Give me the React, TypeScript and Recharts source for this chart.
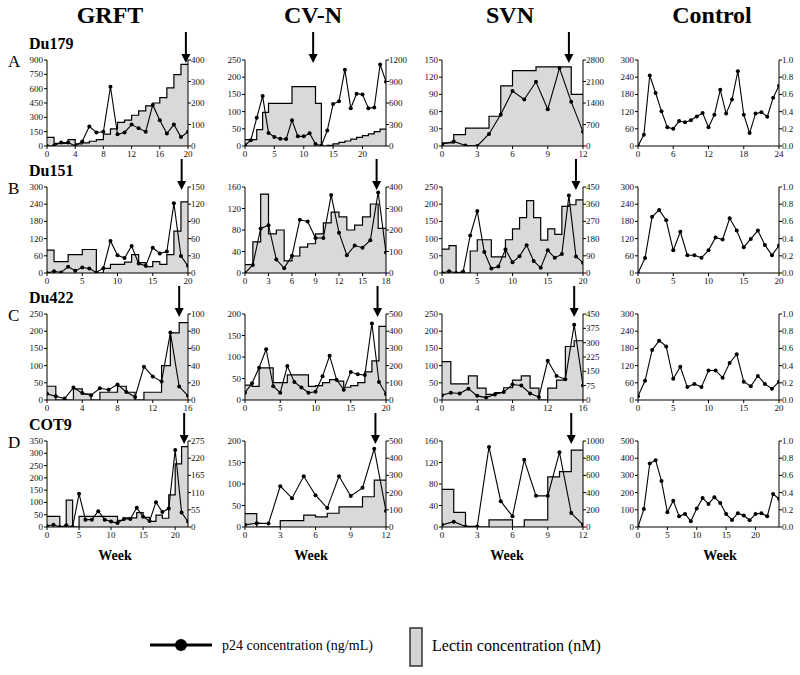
import React from 'react';
import { ComposedChart, Area, Line, XAxis, YAxis, ReferenceDot } from 'recharts';

// ---------- Column / row labels ----------
const COLUMN_TITLES = ['GRFT', 'CV-N', 'SVN', 'Control'];
const ROW_LETTERS = ['A', 'B', 'C', 'D'];
const ROW_VIRUSES = ['Du179', 'Du151', 'Du422', 'COT9'];

// ---------- Row A : Du179 ----------
const A_GRFT_P24 = [0, 3, 37, 37, 0, 48, 205, 142, 149, 620, 123, 142, 224, 187, 149, 430, 269, 131, 224, 93, 149];
const A_GRFT_LECTIN = [40, 12, 12, 30, 10, 15, 22, 30, 55, 80, 110, 120, 143, 163, 187, 200, 225, 270, 332, 380, 380];
const A_CVN_P24 = [2, 17, 82, 145, 38, 26, 21, 20, 75, 28, 28, 37, 6, 1, 45, 122, 130, 222, 110, 152, 150, 110, 112, 237, 187];
const A_CVN_LECTIN = [90, 90, 228, 470, 595, 595, 595, 595, 828, 828, 828, 828, 595, 0, 10, 30, 50, 70, 95, 120, 145, 170, 200, 235, 235];
const A_SVN_P24 = [3, 8, 1, 0, 21, 55, 96, 81, 112, 64, 136, 77, 25];
const A_SVN_LECTIN = [105, 368, 579, 579, 968, 1958, 2453, 2453, 2579, 2579, 2579, 1684, 1684];
const A_CTRL_P24 = [0, 39, 246, 185, 121, 65, 60, 87, 83, 90, 103, 115, 65, 109, 196, 113, 162, 261, 109, 45, 113, 118, 102, 168, 210];

// ---------- Row B : Du151 ----------
const B_GRFT_P24 = [0, 6, 2, 22, 8, 19, 16, 2, 17, 112, 62, 52, 94, 33, 25, 88, 68, 75, 243, 59, 25];
const B_GRFT_LECTIN = [40, 20, 20, 32, 32, 41, 41, 0, 8, 15, 15, 19, 32, 18, 11, 20, 15, 32, 73, 124, 124];
const B_CVN_P24 = [0, 15, 83, 89, 25, 9, 32, 99, 96, 65, 65, 145, 75, 33, 51, 47, 61, 150, 38];
const B_CVN_LECTIN = [39, 145, 367, 182, 200, 56, 79, 120, 136, 182, 233, 283, 261, 200, 223, 261, 321, 208, 208];
const B_SVN_P24 = [0, 5, 0, 4, 109, 180, 61, 13, 19, 69, 31, 49, 81, 35, 15, 66, 44, 55, 225, 48, 30];
const B_SVN_LECTIN = [125, 143, 0, 0, 115, 174, 174, 84, 84, 174, 231, 290, 379, 290, 172, 231, 202, 349, 357, 383, 383];
const B_CTRL_P24 = [0, 52, 196, 220, 184, 79, 144, 62, 62, 53, 79, 124, 117, 191, 148, 90, 119, 148, 98, 62, 96];

// ---------- Row C : Du422 ----------
const C_GRFT_P24 = [18, 11, 4, 36, 20, 14, 34, 30, 45, 23, 9, 97, 68, 54, 196, 39, 12];
const C_GRFT_LECTIN = [16, 0, 0, 13, 7, 0, 9, 9, 16, 9, 0, 9, 9, 40, 78, 90, 90];
const C_CVN_P24 = [17, 39, 75, 118, 32, 17, 79, 42, 29, 17, 19, 55, 103, 47, 24, 65, 60, 58, 178, 42, 14];
const C_CVN_LECTIN = [86, 79, 187, 187, 101, 101, 146, 146, 146, 79, 83, 101, 119, 110, 74, 83, 101, 164, 227, 428, 428];
const C_SVN_P24 = [14, 21, 19, 33, 12, 7, 16, 23, 45, 42, 19, 9, 114, 70, 60, 219, 42];
const C_SVN_LECTIN = [201, 84, 84, 126, 62, 29, 39, 64, 104, 126, 62, 0, 62, 104, 280, 310, 310];
const C_CTRL_P24 = [13, 67, 174, 207, 187, 74, 116, 45, 56, 45, 103, 103, 78, 129, 160, 64, 48, 84, 56, 39, 64];

// ---------- Row D : COT9 ----------
const D_GRFT_P24 = [4, 9, 0, 7, 0, 135, 30, 30, 64, 30, 22, 16, 33, 33, 78, 42, 24, 101, 61, 75, 313, 59, 22];
const D_GRFT_LECTIN = [34, 34, 0, 86, 0, 34, 34, 34, 34, 34, 34, 21, 29, 29, 46, 31, 18, 38, 28, 103, 202, 257, 257];
const D_CVN_P24 = [5, 9, 8, 95, 67, 118, 74, 44, 118, 72, 91, 182, 37];
const D_CVN_LECTIN = [78, 0, 0, 37, 37, 69, 59, 80, 117, 117, 176, 272, 272];
const D_SVN_P24 = [4, 10, 1, 1, 149, 48, 20, 125, 58, 58, 139, 26, 4];
const D_SVN_LECTIN = [438, 169, 7, 0, 82, 82, 0, 82, 82, 582, 645, 895, 895];
const D_CTRL_P24 = [0, 104, 369, 388, 267, 86, 153, 62, 76, 34, 108, 168, 134, 173, 140, 75, 41, 80, 67, 39, 75, 80, 62, 192, 164];

// ---------- Tick label lists ----------
const TICKS_X_20_4 = [0, 4, 8, 12, 16, 20];
const TICKS_X_20_5 = [0, 5, 10, 15, 20];
const TICKS_X_12_3 = [0, 3, 6, 9, 12];
const TICKS_X_24_6 = [0, 6, 12, 18, 24];
const TICKS_X_18_3 = [0, 3, 6, 9, 12, 15, 18];
const TICKS_X_16_4 = [0, 4, 8, 12, 16];
const TICKS_CTRL_RIGHT = [0, 0.2, 0.4, 0.6, 0.8, 1.0];

type Cfg = {
  p24: number[];
  lectin?: number[];
  xMax: number; xTicks: number[];
  yMax: number; yTicks: number[];
  rMax: number; rTicks: number[];
  rFmt?: (v: number) => string;
  arrow?: number;
};

const ctrlFmt = (v: number) => v.toFixed(1);

const PANELS: Cfg[][] = [
  [
    { p24: A_GRFT_P24, lectin: A_GRFT_LECTIN, xMax: 20, xTicks: TICKS_X_20_4, yMax: 900, yTicks: [0, 150, 300, 450, 600, 750, 900], rMax: 400, rTicks: [0, 100, 200, 300, 400], arrow: 19.7 },
    { p24: A_CVN_P24, lectin: A_CVN_LECTIN, xMax: 24, xTicks: TICKS_X_20_5, yMax: 250, yTicks: [0, 50, 100, 150, 200, 250], rMax: 1200, rTicks: [0, 300, 600, 900, 1200], arrow: 11.6 },
    { p24: A_SVN_P24, lectin: A_SVN_LECTIN, xMax: 12, xTicks: TICKS_X_12_3, yMax: 150, yTicks: [0, 30, 60, 90, 120, 150], rMax: 2800, rTicks: [0, 700, 1400, 2100, 2800], arrow: 10.8 },
    { p24: A_CTRL_P24, xMax: 24, xTicks: TICKS_X_24_6, yMax: 300, yTicks: [0, 60, 120, 180, 240, 300], rMax: 1, rTicks: TICKS_CTRL_RIGHT, rFmt: ctrlFmt },
  ],
  [
    { p24: B_GRFT_P24, lectin: B_GRFT_LECTIN, xMax: 20, xTicks: TICKS_X_20_5, yMax: 300, yTicks: [0, 60, 120, 180, 240, 300], rMax: 150, rTicks: [0, 30, 60, 90, 120, 150], arrow: 19.1 },
    { p24: B_CVN_P24, lectin: B_CVN_LECTIN, xMax: 18, xTicks: TICKS_X_18_3, yMax: 160, yTicks: [0, 40, 80, 120, 160], rMax: 400, rTicks: [0, 100, 200, 300, 400], arrow: 16.8 },
    { p24: B_SVN_P24, lectin: B_SVN_LECTIN, xMax: 20, xTicks: TICKS_X_20_5, yMax: 250, yTicks: [0, 50, 100, 150, 200, 250], rMax: 450, rTicks: [0, 90, 180, 270, 360, 450], arrow: 19 },
    { p24: B_CTRL_P24, xMax: 20, xTicks: TICKS_X_20_5, yMax: 300, yTicks: [0, 60, 120, 180, 240, 300], rMax: 1, rTicks: TICKS_CTRL_RIGHT, rFmt: ctrlFmt },
  ],
  [
    { p24: C_GRFT_P24, lectin: C_GRFT_LECTIN, xMax: 16, xTicks: TICKS_X_16_4, yMax: 250, yTicks: [0, 50, 100, 150, 200, 250], rMax: 100, rTicks: [0, 20, 40, 60, 80, 100], arrow: 15 },
    { p24: C_CVN_P24, lectin: C_CVN_LECTIN, xMax: 20, xTicks: TICKS_X_20_5, yMax: 200, yTicks: [0, 50, 100, 150, 200], rMax: 500, rTicks: [0, 100, 200, 300, 400, 500], arrow: 18.8 },
    { p24: C_SVN_P24, lectin: C_SVN_LECTIN, xMax: 16, xTicks: TICKS_X_16_4, yMax: 250, yTicks: [0, 50, 100, 150, 200, 250], rMax: 450, rTicks: [0, 75, 150, 225, 300, 375, 450], arrow: 15 },
    { p24: C_CTRL_P24, xMax: 20, xTicks: TICKS_X_20_5, yMax: 300, yTicks: [0, 60, 120, 180, 240, 300], rMax: 1, rTicks: TICKS_CTRL_RIGHT, rFmt: ctrlFmt },
  ],
  [
    { p24: D_GRFT_P24, lectin: D_GRFT_LECTIN, xMax: 22, xTicks: TICKS_X_20_5, yMax: 350, yTicks: [0, 50, 100, 150, 200, 250, 300, 350], rMax: 275, rTicks: [0, 55, 110, 165, 220, 275], arrow: 21.4 },
    { p24: D_CVN_P24, lectin: D_CVN_LECTIN, xMax: 12, xTicks: TICKS_X_12_3, yMax: 200, yTicks: [0, 50, 100, 150, 200], rMax: 500, rTicks: [0, 100, 200, 300, 400, 500], arrow: 11.1 },
    { p24: D_SVN_P24, lectin: D_SVN_LECTIN, xMax: 12, xTicks: TICKS_X_12_3, yMax: 160, yTicks: [0, 40, 80, 120, 160], rMax: 1000, rTicks: [0, 200, 400, 600, 800, 1000], arrow: 11 },
    { p24: D_CTRL_P24, xMax: 24, xTicks: TICKS_X_20_5, yMax: 500, yTicks: [0, 100, 200, 300, 400, 500], rMax: 1, rTicks: TICKS_CTRL_RIGHT, rFmt: ctrlFmt },
  ],
];

// ---------- Layout ----------
const COL_LEFT = [47, 245, 442, 638];
const ROW_TOP = [60, 187, 314, 441];
const PLOT_W = 141;
const PLOT_H = 86;
const AX_W = 28;
const TOP_M = 36;
const BOT_H = 16;
const TITLE_X = [110, 313, 510, 712];
const WEEK_X = [115, 311, 507, 720];
const SERIF = '"Liberation Serif", "DejaVu Serif", serif';

const makeTick = (anchor: 'start' | 'middle' | 'end', dy: number, fmt?: (v: number) => string) =>
  (props: any) => {
    const { x, y, payload } = props;
    const v = payload?.value;
    return (
      <text x={x} y={y + dy} textAnchor={anchor} fontSize={9} fontFamily={SERIF} fill="#111">
        {fmt ? fmt(v) : String(v)}
      </text>
    );
  };

const xTick = makeTick('middle', 7.5);
const leftTick = makeTick('end', 3);

const ArrowShape = (props: any) => {
  const { cx, cy } = props;
  if (cx == null || cy == null) return null;
  const tip = cy + 3;
  return (
    <g>
      <line x1={cx} x2={cx} y1={tip - 31} y2={tip - 7} stroke="#000" strokeWidth={2} />
      <polygon points={`${cx - 4.5},${tip - 9} ${cx + 4.5},${tip - 9} ${cx},${tip}`} fill="#000" />
    </g>
  );
};

function Panel({ cfg, left, top }: { cfg: Cfg; left: number; top: number }) {
  const data = cfg.p24.map((v, i) => ({
    week: i,
    p24: v,
    lectin: cfg.lectin ? cfg.lectin[i] : null,
  }));
  const rightTick = makeTick('start', 3, cfg.rFmt);
  return (
    <div style={{ position: 'absolute', left: left - AX_W, top: top - TOP_M }}>
      <ComposedChart
        width={PLOT_W + 2 * AX_W}
        height={TOP_M + PLOT_H + BOT_H}
        data={data}
        margin={{ top: TOP_M, right: 0, bottom: 0, left: 0 }}
      >
        <XAxis
          dataKey="week"
          type="number"
          domain={[0, cfg.xMax]}
          ticks={cfg.xTicks}
          interval={0}
          allowDataOverflow
          height={BOT_H}
          tickSize={3}
          tickMargin={0}
          tick={xTick}
          axisLine={{ stroke: '#000', strokeWidth: 1 }}
          tickLine={{ stroke: '#000' }}
        />
        <YAxis
          yAxisId="l"
          domain={[0, cfg.yMax]}
          ticks={cfg.yTicks}
          interval={0}
          allowDataOverflow
          width={AX_W}
          tickSize={3}
          tickMargin={1}
          tick={leftTick}
          axisLine={{ stroke: '#000', strokeWidth: 1 }}
          tickLine={{ stroke: '#000' }}
        />
        <YAxis
          yAxisId="r"
          orientation="right"
          domain={[0, cfg.rMax]}
          ticks={cfg.rTicks}
          interval={0}
          allowDataOverflow
          width={AX_W}
          tickSize={3}
          tickMargin={0}
          tick={rightTick}
          axisLine={{ stroke: '#000', strokeWidth: 1 }}
          tickLine={{ stroke: '#000' }}
        />
        {cfg.lectin && (
          <Area
            yAxisId="r"
            dataKey="lectin"
            type="stepAfter"
            fill="#d9d9d9"
            fillOpacity={1}
            stroke="#000"
            strokeWidth={1.2}
            dot={false}
            activeDot={false}
            isAnimationActive={false}
          />
        )}
        <Line
          yAxisId="l"
          dataKey="p24"
          type="linear"
          stroke="#000"
          strokeWidth={1.1}
          dot={{ r: 2, fill: '#000', stroke: '#000', strokeWidth: 0 }}
          activeDot={false}
          isAnimationActive={false}
        />
        {cfg.arrow != null && (
          <ReferenceDot yAxisId="l" x={cfg.arrow} y={cfg.yMax} ifOverflow="visible" shape={ArrowShape} />
        )}
      </ComposedChart>
    </div>
  );
}

export default function App() {
  return (
    <div style={{ position: 'absolute', left: 0, top: 0, width: 800, height: 675, background: '#fff', fontFamily: SERIF }}>
      <svg width={800} height={675} style={{ position: 'absolute', left: 0, top: 0 }}>
        {COLUMN_TITLES.map((t, i) => (
          <text key={t} x={TITLE_X[i]} y={23} textAnchor="middle" fontFamily={SERIF} fontWeight="bold" fontSize={24} fill="#000">
            {t}
          </text>
        ))}
        {ROW_LETTERS.map((t, i) => (
          <text key={t} x={8} y={ROW_TOP[i] + 7} fontFamily={SERIF} fontSize={17} fill="#000">
            {t}
          </text>
        ))}
        {ROW_VIRUSES.map((t, i) => (
          <text key={t} x={29} y={ROW_TOP[i] - 11} fontFamily={SERIF} fontWeight="bold" fontSize={16} fill="#000">
            {t}
          </text>
        ))}
        {WEEK_X.map((x, i) => (
          <text key={i} x={x} y={560} textAnchor="middle" fontFamily={SERIF} fontWeight="bold" fontSize={14} fill="#000">
            Week
          </text>
        ))}
        {/* legend */}
        <line x1={150} x2={212} y1={645} y2={645} stroke="#000" strokeWidth={3} />
        <circle cx={181} cy={645} r={6} fill="#000" />
        <text x={222} y={650} fontFamily={SERIF} fontSize={14} fill="#000">
          p24 concentration (ng/mL)
        </text>
        <rect x={410} y={628} width={12} height={38} fill="#d3d3d3" stroke="#333" strokeWidth={1.5} />
        <text x={432} y={651} fontFamily={SERIF} fontSize={16} fill="#000">
          Lectin concentration  (nM)
        </text>
      </svg>
      {PANELS.map((row, r) =>
        row.map((cfg, c) => <Panel key={`${r}-${c}`} cfg={cfg} left={COL_LEFT[c]} top={ROW_TOP[r]} />)
      )}
    </div>
  );
}
